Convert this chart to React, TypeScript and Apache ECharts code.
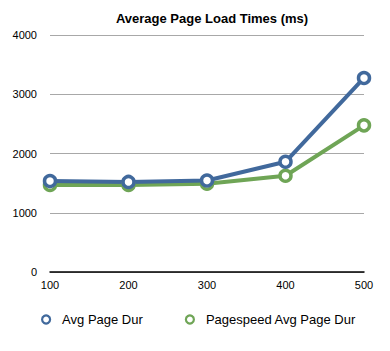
import React, { useEffect, useRef } from "react";
import * as echarts from "echarts";

const categories = ["100", "200", "300", "400", "500"];
const avgPageDur = [1535, 1520, 1545, 1860, 3275];
const pagespeedAvg = [1470, 1470, 1490, 1625, 2475];
const seriesNames = ["Avg Page Dur", "Pagespeed Avg Page Dur"];

const BLUE = "#41699c";
const GREEN = "#6fa556";
const FONT = "Liberation Sans, Arial, sans-serif";

export default function App() {
  const ref = useRef<HTMLDivElement>(null);
  useEffect(() => {
    const chart = echarts.init(ref.current!, null, { renderer: "svg" });
    const mk = (name: string, data: number[], color: string) => ({
      name,
      type: "line",
      data,
      symbol: "circle",
      symbolSize: 11,
      showSymbol: true,
      lineStyle: { color, width: 4 },
      itemStyle: { color: "#fff", borderColor: color, borderWidth: 3.5 },
      emphasis: { disabled: true },
    });
    chart.setOption({
      animation: false,
      backgroundColor: "#fff",
      textStyle: { fontFamily: FONT },
      title: {
        text: "Average Page Load Times (ms)",
        left: 207,
        textAlign: "center",
        top: 7,
        textStyle: { fontFamily: FONT, fontSize: 13, fontWeight: "bold", color: "#000" },
      },
      grid: { left: 50, right: 26, top: 35, bottom: 79, containLabel: false },
      legend: {
        bottom: 20,
        left: 36,
        itemGap: 42,
        itemWidth: 8,
        itemHeight: 8,
        icon: "circle",
        textStyle: { fontFamily: FONT, fontSize: 13, color: "#000", padding: [0, 0, 0, 7] },
        data: [
          { name: seriesNames[0], itemStyle: { color: "#fff", borderColor: BLUE, borderWidth: 2.2 } },
          { name: seriesNames[1], itemStyle: { color: "#fff", borderColor: GREEN, borderWidth: 2.2 } },
        ],
      },
      xAxis: {
        type: "category",
        data: categories,
        boundaryGap: false,
        axisLine: { lineStyle: { color: "#000", width: 1.5 } },
        axisTick: { show: false },
        axisLabel: { color: "#000", fontSize: 11, fontFamily: FONT, margin: 7 },
      },
      yAxis: {
        type: "value",
        min: 0,
        max: 4000,
        interval: 1000,
        axisLine: { show: false },
        axisTick: { show: false },
        axisLabel: { color: "#000", fontSize: 11, fontFamily: FONT, margin: 13, formatter: (v: number) => String(v) },
        splitLine: { lineStyle: { color: "#a8a8a8", width: 1 } },
      },
      series: [mk(seriesNames[1], pagespeedAvg, GREEN), mk(seriesNames[0], avgPageDur, BLUE)],
    });
    return () => chart.dispose();
  }, []);
  return <div ref={ref} style={{ width: 390, height: 351, position: "absolute", left: 0, top: 0 }} />;
}
